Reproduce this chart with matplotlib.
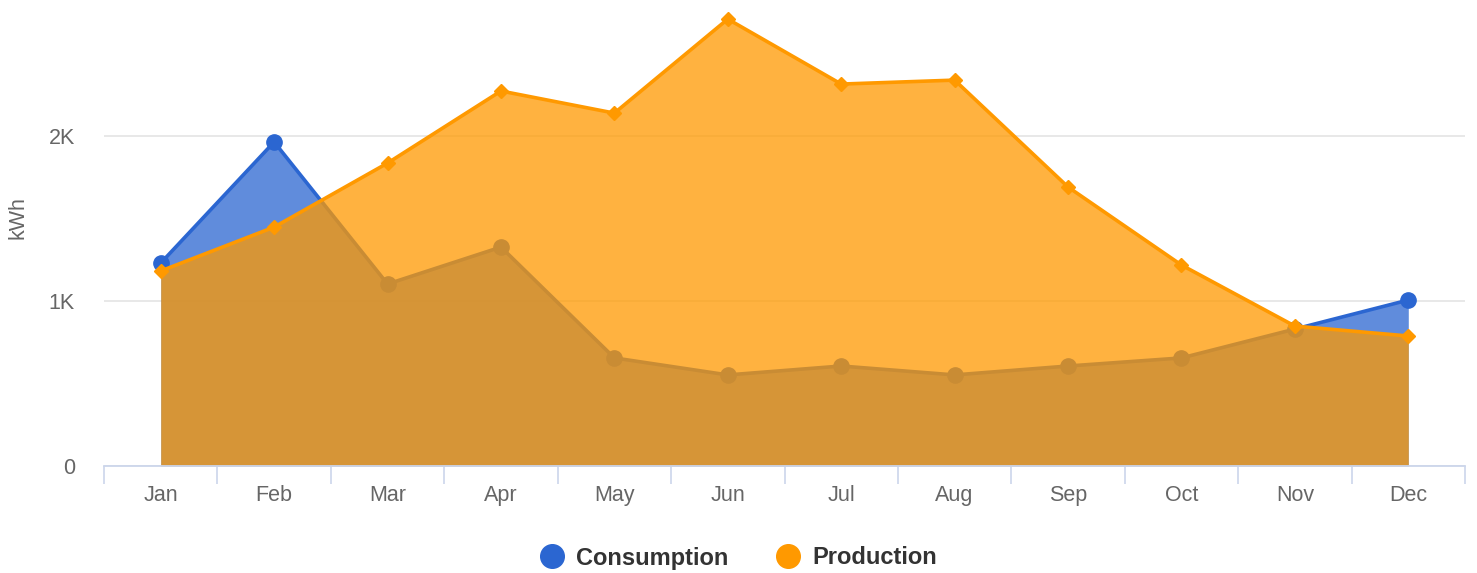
import matplotlib.pyplot as plt
from matplotlib.lines import Line2D
import numpy as np

plt.rcParams['font.family'] = ['Liberation Sans', 'DejaVu Sans']

months = ["Jan", "Feb", "Mar", "Apr", "May", "Jun", "Jul", "Aug", "Sep", "Oct", "Nov", "Dec"]
consumption = [1230, 1964, 1103, 1327, 655, 552, 606, 552, 606, 655, 830, 1006]
production = [1182, 1448, 1836, 2273, 2139, 2709, 2315, 2339, 1691, 1218, 848, 788]

blue = "#2b66d1"
orange = "#ff9900"

fig = plt.figure(figsize=(14.77, 5.73), dpi=100)
ax = fig.add_axes([104 / 1477, (573 - 466) / 573, (1465 - 104) / 1477, (466 - 10) / 573])

x = np.arange(len(months))

# consumption below, production drawn on top
ax.fill_between(x, consumption, color=blue, alpha=0.75, linewidth=0, zorder=1)
ax.plot(x, consumption, color=blue, lw=2.6, zorder=2)
ax.plot(x, consumption, "o", color=blue, ms=11, zorder=3)

ax.fill_between(x, production, color=orange, alpha=0.75, linewidth=0, zorder=4)
ax.plot(x, production, color=orange, lw=2.6, zorder=5)
ax.plot(x, production, "D", color=orange, ms=7, zorder=6)

ax.set_xlim(-0.5, 11.5)
ax.set_ylim(0, 2764)

ax.set_yticks([0, 1000, 2000])
ax.set_yticklabels(["0", "1K", "2K"])
ax.tick_params(axis="y", length=0, pad=21, labelsize=15.5, labelcolor="#666666")
ax.yaxis.grid(True, color="#e6e6e6", lw=1.3)
ax.set_axisbelow(True)

ax.set_xticks(x)
ax.set_xticklabels(months)
ax.tick_params(axis="x", which="major", length=0, pad=14, labelsize=15.5, labelcolor="#666666")
ax.set_xticks(np.arange(-0.5, 12, 1), minor=True)
ax.tick_params(axis="x", which="minor", length=13, width=1.2, color="#ccd6eb")

for s in ["top", "right", "left"]:
    ax.spines[s].set_visible(False)
ax.spines["bottom"].set_color("#ccd6eb")
ax.spines["bottom"].set_linewidth(1.3)
ax.spines["bottom"].set_zorder(7)

ax.set_ylabel("kWh", fontsize=15.5, color="#666666")
ax.yaxis.set_label_coords(-0.0558, 0.545)

handles = [
    Line2D([], [], marker="o", ls="", color=blue, ms=17),
    Line2D([], [], marker="o", ls="", color=orange, ms=17),
]
fig.legend(handles, ["Consumption", "Production"], loc="center", bbox_to_anchor=(0.5, (573 - 558) / 573),
           ncol=2, frameon=False, handlelength=1.0, handletextpad=0.55, columnspacing=2.0,
           prop={"size": 17, "weight": "bold"}, labelcolor="#333333")

fig.savefig("out.png", dpi=100)
